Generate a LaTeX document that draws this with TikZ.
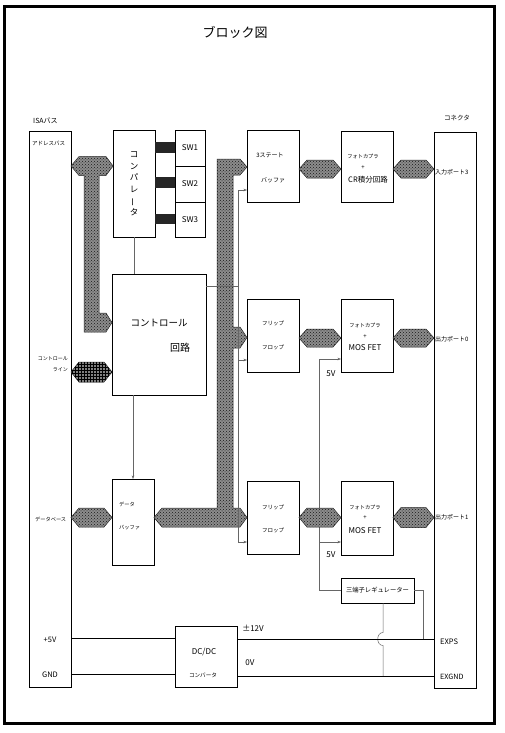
\documentclass[tikz,border=0pt]{standalone}
\usepackage{fontspec}
\usepackage{graphicx}
\setmainfont{Noto Sans CJK JP}
\usetikzlibrary{patterns,arrows.meta,calc}
\newcommand\hexbus[4][bus]{\path[#1] (#2) -- ($(#2)+(8,-#4)$) -- ($(#3)+(-8,-#4)$) -- (#3) -- ($(#3)+(-8,#4)$) -- ($(#2)+(8,#4)$) -- cycle;}
\begin{document}
\begin{tikzpicture}[x=1pt,y=-1pt,
  box/.style={draw, line width=0.8pt, rectangle, inner sep=0pt, outer sep=0pt},
  txt/.style={inner sep=0pt, font=\fontsize{#1}{#1}\selectfont},
  bus/.style={draw=black!85, line width=0.5pt, fill=black!45, postaction={pattern=crosshatch dots, pattern color=black!90}},
  ctlbus/.style={draw=black!85, line width=0.5pt, fill=black!50, postaction={pattern=grid, pattern color=black}},
  swbar/.style={fill=black!85},
  sig/.style={draw=black!60, line width=0.5pt},
  sigarrow/.style={sig, -{Stealth[length=3.5pt,width=2.6pt]}},
  pw/.style={draw=black, line width=0.9pt}]
\useasboundingbox (0,0) rectangle (504,733);
\draw[line width=3pt] (4,7) rectangle (494,723);
\node[txt=13] (title) at (235,32) {ブロック図};
% main boxes
\node[box, minimum width=42pt, minimum height=556pt] (isa) at (50,409) {};
\node[box, minimum width=42pt, minimum height=556pt] (conn) at (455,410) {};
\node[box, minimum width=42pt, minimum height=107pt] (comp) at (134,183.5) {};
\node[box, minimum width=30pt, minimum height=36pt] (sw1) at (190,148) {};
\node[box, minimum width=30pt, minimum height=36pt] (sw2) at (190,184) {};
\node[box, minimum width=30pt, minimum height=35pt] (sw3) at (190,219.5) {};
\node[box, minimum width=94pt, minimum height=121pt] (ctrl) at (159,334.5) {};
\node[box, minimum width=42pt, minimum height=86pt] (dbuf) at (133,522) {};
\node[box, minimum width=52pt, minimum height=72pt] (tsb) at (273,166) {};
\node[box, minimum width=52pt, minimum height=73pt] (ff1) at (273,335.5) {};
\node[box, minimum width=52pt, minimum height=73pt] (ff2) at (273,517.5) {};
\node[box, minimum width=52pt, minimum height=71pt] (pc1) at (367,166.5) {};
\node[box, minimum width=52pt, minimum height=73pt] (pc2) at (367,335.5) {};
\node[box, minimum width=52pt, minimum height=74pt] (pc3) at (367,518) {};
\node[box, minimum width=73pt, minimum height=25pt] (reg) at (377.5,590.5) {};
\node[box, minimum width=62pt, minimum height=61pt] (dcdc) at (206,656.5) {};
% labels outside / in bus boxes
\node[txt=7, anchor=west] (lisa) at (33,121) {ISAバス};
\node[txt=6.5] (lconn) at (457,118) {コネクタ};
\node[txt=5.5, anchor=west] (laddr) at (32,143) {アドレスバス};
\node[inner sep=0pt, font=\fontsize{5}{11}\selectfont, align=right, anchor=east] (lctl) at (68,364) {コントロール\\ライン};
\node[txt=5.2, anchor=west] (ldata) at (35,519) {データベース};
\node[txt=7.5] (l5v) at (50,640) {+5V};
\node[txt=7.5] (lgnd) at (50,675) {GND};
\node[txt=6, anchor=west] (lin3) at (435,172) {入力ポート3};
\node[txt=6, anchor=west] (lout0) at (435,339) {出力ポート0};
\node[txt=6, anchor=west] (lout1) at (435,517) {出力ポート1};
\node[txt=7.5, anchor=west] (lexps) at (440,642) {EXPS};
\node[txt=7.2, anchor=west] (lexgnd) at (440,677) {EXGND};
% box texts
\node[inner sep=0pt, font=\fontsize{8.5}{11.5}\selectfont, align=center] (tcomp) at (134,184) {コ\\ン\\パ\\レ\\\rotatebox[origin=c]{90}{ー}\\タ};
\node[txt=8] (tsw1) at (190,148) {SW1};
\node[txt=8] (tsw2) at (190,184) {SW2};
\node[txt=8] (tsw3) at (190,219.5) {SW3};
\node[txt=9.5] (tctrl1) at (159,323) {コントロール};
\node[txt=10] (tctrl2) at (180,348) {回路};
\node[txt=5.2, anchor=west] (tdb1) at (119,504) {データ};
\node[txt=5.2, anchor=west] (tdb2) at (119,528) {バッファ};
\node[txt=6] (ttsb1) at (270,155) {3ステート};
\node[txt=6] (ttsb2) at (273,180) {バッファ};
\node[txt=5.5] (tff11) at (273,323) {フリップ};
\node[txt=5.5] (tff12) at (273,347) {フロップ};
\node[txt=5.5] (tff21) at (273,507) {フリップ};
\node[txt=5.5] (tff22) at (273,530) {フロップ};
\node[txt=5.2] (tpc11) at (363,157) {フォトカプラ};
\node[txt=6] (tpc12) at (363,168) {+};
\node[txt=7.5] (tpc13) at (368,180) {CR積分回路};
\node[txt=5.2] (tpc21) at (365,325) {フォトカプラ};
\node[txt=6] (tpc22) at (365,337) {+};
\node[txt=8] (tpc23) at (365,348) {MOS FET};
\node[txt=5.2] (tpc31) at (365,507) {フォトカプラ};
\node[txt=6] (tpc32) at (365,518) {+};
\node[txt=8] (tpc33) at (365,531) {MOS FET};
\node[txt=6.3] (treg) at (377.5,590.5) {三端子レギュレーター};
\node[txt=8] (tdc1) at (204,652) {DC/DC};
\node[txt=5.6] (tdc2) at (203,675) {コンバータ};
% SW bars
\fill[swbar] (comp.east |- 0,142) rectangle (sw1.west |- 0,153);
\fill[swbar] (comp.east |- 0,177) rectangle (sw2.west |- 0,188);
\fill[swbar] (comp.east |- 0,214) rectangle (sw3.west |- 0,224);
% thin signal lines (under buses)
\coordinate (ct) at (238,190);
\coordinate (cm) at (238,286);
\coordinate (cf1) at (238,360);
\coordinate (cb) at (238,542);
\coordinate (v5a) at (319,359);
\coordinate (v5b) at (319,542);
\coordinate (v5c) at (319,590.5);
\coordinate (rr) at (423,590.5);
\coordinate (rb) at (383,603);
\coordinate (rg) at (383,676);
\draw[sig] (reg.west) -- (v5c) -- (v5a);
\draw[sig] (rb) -- (383,632.5) .. controls (376,632.5) and (376,645.5) .. (383,645.5) -- (rg);
% buses
\path[bus] (isa.east |- 0,166) -- (79,156.5) -- (106,156.5) -- (comp.west |- 0,166) -- (106,175.5) -- (99,175.5) -- (99,313) -- (106,313) -- (ctrl.west |- 0,322.5) -- (106,332) -- (84,332) -- (84,175.5) -- (79,175.5) -- cycle;
\path[bus] (dbuf.east |- 0,517.5) -- (162,508) -- (217,508) -- (217,159) -- (240,159) -- (tsb.west |- 0,167) -- (240,175) -- (233,175) -- (233,327) -- (240,327) -- (ff1.west |- 0,337.5) -- (240,348) -- (233,348) -- (233,508) -- (240,508) -- (ff2.west |- 0,517.5) -- (240,527) -- (162,527) -- cycle;
\coordinate (ha1) at (isa.east |- 0,372); \coordinate (hb1) at (ctrl.west |- 0,372);
\hexbus[ctlbus]{ha1}{hb1}{10}
\coordinate (ha2) at (isa.east |- 0,517.5); \coordinate (hb2) at (dbuf.west |- 0,517.5);
\hexbus{ha2}{hb2}{9.5}
\coordinate (ha3) at (tsb.east |- 0,169); \coordinate (hb3) at (pc1.west |- 0,169);
\hexbus{ha3}{hb3}{9}
\coordinate (ha4) at (ff1.east |- 0,338); \coordinate (hb4) at (pc2.west |- 0,338);
\hexbus{ha4}{hb4}{9}
\coordinate (ha5) at (ff2.east |- 0,517.5); \coordinate (hb5) at (pc3.west |- 0,517.5);
\hexbus{ha5}{hb5}{9.5}
\coordinate (ha6) at (pc1.east |- 0,169); \coordinate (hb6) at (conn.west |- 0,169);
\hexbus{ha6}{hb6}{9}
\coordinate (ha7) at (pc2.east |- 0,338); \coordinate (hb7) at (conn.west |- 0,338);
\hexbus{ha7}{hb7}{9}
\coordinate (ha8) at (pc3.east |- 0,517.5); \coordinate (hb8) at (conn.west |- 0,517.5);
\hexbus{ha8}{hb8}{10}
% thin signal lines (over buses)
\draw[sig] (comp.south) -- (comp.south |- ctrl.north);
\draw[sigarrow] (dbuf.north |- ctrl.south) -- (dbuf.north);
\draw[sig] (ctrl.east |- cm) -- (cm);
\draw[sig] (ct) -- (cb);
\draw[sigarrow] (ct) -- (tsb.west |- ct);
\draw[sigarrow] (cf1) -- (ff1.west |- cf1);
\draw[sigarrow] (cb) -- (ff2.west |- cb);
\draw[sigarrow] (v5a) -- (pc2.west |- v5a);
\draw[sigarrow] (v5b) -- (pc3.west |- v5b);
\draw[sig] (reg.east) -- (rr) -- (rr |- 0,639);
\node[txt=8] (l5va) at (331,374) {5V};
\node[txt=8] (l5vb) at (331,555) {5V};
% power lines
\draw[pw] (isa.east |- 0,638) -- (dcdc.west |- 0,638);
\draw[pw] (isa.east |- 0,674) -- (dcdc.west |- 0,674);
\draw[pw] (dcdc.east |- 0,639) -- (conn.west |- 0,639);
\draw[pw] (dcdc.east |- 0,676) -- (conn.west |- 0,676);
\node[txt=8] (l12v) at (253,628) {±12V};
\node[txt=8] (l0v) at (250,663) {0V};
\end{tikzpicture}
\end{document}
